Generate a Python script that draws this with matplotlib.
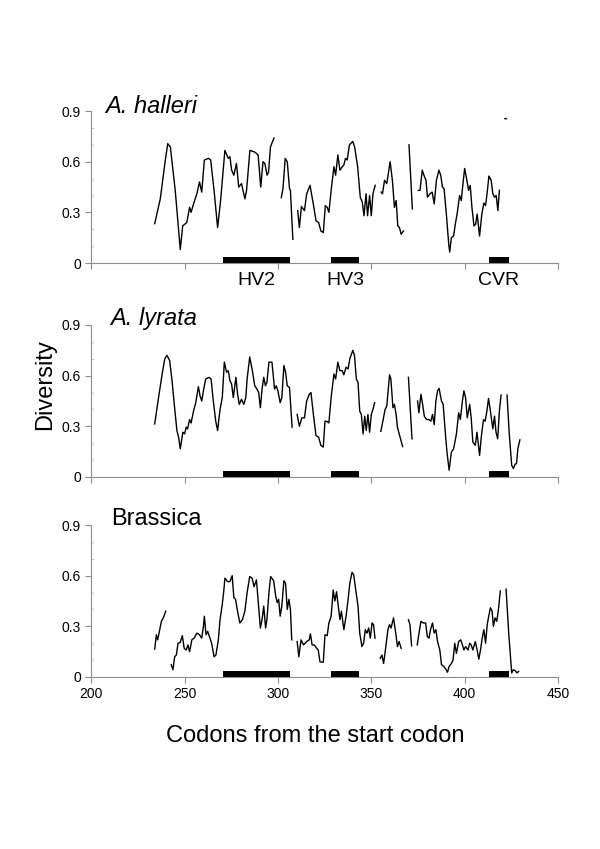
import numpy as np
import matplotlib
matplotlib.use("Agg")
import matplotlib.pyplot as plt
from matplotlib.ticker import MultipleLocator

nan = np.nan

# A. halleri (nan = gap in the curve)
halleri_x = [234, 237, 239.7, 241, 242.4, 245, 247.7, 249, 251.2, 252.7, 253.5, 254.8, 256.6, 258, 259.2,
             260.6, 262.8, 264, 265.8, 267.7, 269.3, 271.6, 273.4, 274.3, 275.2, 276.4, 277.8, 279, 280.5,
             282.3, 283.2, 285, 287.6, 289.4, 290.8, 292, 293, 294.2, 295, 296, 297, 297.9, nan,
             301.8, 302.7, 303.9, 305, 306.2, 306.7, 308, nan,
             310.6, 311.5, 312.6, 314.2, 315.4, 317.2, 318, 319.1, 320.4, 321.8, 323, 324.3, 325.4, 326.4,
             327.3, 328.5, 330, 330.9, 332.1, 333.2, 334.4, 335.3, 336.2, 337.1, 338.3, 340.1, 341.1, 342.7,
             344.1, 345.2, 346.1, 347.2, 348, 349.1, 350, 350.9, 352.1, nan,
             355.3, 356, 357.1, 358.3, 360.1, 361.3, 362.4, 363.3, 364.2, 365.1, 366, 367.2, nan,
             370.2, 372, nan,
             375.2, 376.1, 377.3, 378.2, 379.3, 380.1, 381.4, 382.6, 383.7, 384.9, 386.2, 387.2, 388.1, 389,
             390.2, 391.5, 392, 392.9, 394.1, 395, 396.1, 397.3, 398.2, 399.1, 400, 401.2, 402.1, 403, 403.9,
             405, 405.9, 406.7, 408, 409.2, 410.3, 411.2, 412.1, 413, 414.2, 415.1, 416, 416.9, 417.8, 418.6,
             nan, 421.6, 422.4]
halleri_y = [0.233, 0.38, 0.61, 0.707, 0.687, 0.43, 0.08, 0.22, 0.24, 0.33, 0.30, 0.35, 0.41, 0.48, 0.42,
             0.61, 0.62, 0.61, 0.43, 0.21, 0.37, 0.667, 0.62, 0.63, 0.55, 0.52, 0.59, 0.45, 0.47,
             0.38, 0.43, 0.667, 0.657, 0.64, 0.45, 0.60, 0.59, 0.52, 0.54, 0.687, 0.716, 0.74, nan,
             0.387, 0.44, 0.62, 0.60, 0.44, 0.43, 0.14, nan,
             0.31, 0.21, 0.335, 0.31, 0.41, 0.46, 0.41, 0.34, 0.25, 0.24, 0.19, 0.18, 0.34, 0.33,
             0.30, 0.43, 0.57, 0.52, 0.64, 0.55, 0.57, 0.58, 0.62, 0.61, 0.70, 0.72, 0.687, 0.57,
             0.39, 0.36, 0.28, 0.41, 0.28, 0.40, 0.28, 0.41, 0.46, nan,
             0.42, 0.41, 0.49, 0.47, 0.60, 0.49, 0.33, 0.37, 0.22, 0.21, 0.17, 0.19, nan,
             0.70, 0.32, nan,
             0.43, 0.43, 0.55, 0.52, 0.49, 0.39, 0.41, 0.42, 0.35, 0.49, 0.55, 0.52, 0.45, 0.44,
             0.29, 0.11, 0.065, 0.15, 0.16, 0.23, 0.30, 0.40, 0.37, 0.47, 0.56, 0.49, 0.43, 0.46, 0.33,
             0.22, 0.23, 0.29, 0.16, 0.29, 0.355, 0.34, 0.42, 0.515, 0.49, 0.41, 0.39, 0.40, 0.31, 0.43,
             nan, 0.855, 0.855]

# A. lyrata
lyrata_x = [234, 236.2, 238, 239.4, 240.6, 242, 243.3, 244.5, 245.9, 246.8, 247.7, 249.1, 250, 250.9, 251.6,
            252.7, 253.5, 254.8, 256, 257.4, 258.3, 259.2, 260.1, 261.3, 263.1, 264.2, 265.4, 266.7, 267.7,
            269, 270.2, 271.3, 272.5, 273.4, 274.3, 275.2, 276.1, 277.5, 278.4, 279.3, 280.5, 281.7, 282.8,
            283.5, 284.9, 286.3, 287.6, 288.8, 289.7, 290.6, 291.5, 292.4, 293.3, 294.1, 295.2, 296.8, 298.2,
            299.1, 300, 301.2, 302.1, 303.2, 304.1, 305, 306.2, 307.6, nan,
            310.3, 311.5, 312.8, 314.2, 315.4, 316.8, 317.7, 319, 320.4, 321.8, 323, 324.3, 325.2, 326.1,
            327.3, 328.5, 330, 330.9, 332.1, 333.2, 334.4, 335.3, 336.5, 337.6, 338.5, 340.1, 341, 342,
            342.9, 343.8, 344.7, 345.6, 346.5, 347.3, 348.2, 349.1, 350, 350.9, 351.8, nan,
            355.1, 356.2, 357.4, 358.3, 359.8, 360.5, 361.6, 362.4, 363.3, 364, 365.4, 366.8, nan,
            369.9, 371.8, nan,
            374.8, 375.5, 376.6, 377.5, 378.4, 379.6, 380.9, 381.9, 382.8, 383.7, 384.6, 385.5, 386.3, 387.6,
            388.5, 389.7, 390.6, 391.7, 392.9, 394.1, 395.6, 396.8, 397.7, 398.8, 399.6, 400.5, 401.4, 402.7,
            403.5, 404.4, 405.7, 406.6, 408, 408.9, 410.1, 411, 411.9, 412.8, 413.8, 415.1, 416, 416.8, 417.7,
            418.6, 419.5, nan,
            422.7, 423.9, 425.2, 426.1, 427, 427.8, 428.5, 429.6]
lyrata_y = [0.314, 0.48, 0.61, 0.70, 0.72, 0.69, 0.57, 0.43, 0.275, 0.236, 0.167, 0.265, 0.255, 0.295, 0.285,
            0.34, 0.32, 0.39, 0.44, 0.535, 0.48, 0.45, 0.51, 0.58, 0.59, 0.58, 0.45, 0.33, 0.275,
            0.40, 0.47, 0.68, 0.62, 0.63, 0.57, 0.55, 0.47, 0.59, 0.49, 0.43, 0.46, 0.43, 0.47,
            0.58, 0.71, 0.63, 0.54, 0.52, 0.50, 0.41, 0.52, 0.59, 0.54, 0.56, 0.68, 0.68, 0.52,
            0.54, 0.51, 0.44, 0.47, 0.66, 0.62, 0.54, 0.53, 0.295, nan,
            0.37, 0.30, 0.35, 0.35, 0.45, 0.49, 0.50, 0.37, 0.245, 0.236, 0.187, 0.177, 0.33, 0.33,
            0.32, 0.47, 0.61, 0.58, 0.68, 0.63, 0.63, 0.605, 0.65, 0.64, 0.70, 0.75, 0.72, 0.58,
            0.56, 0.39, 0.37, 0.255, 0.36, 0.275, 0.37, 0.265, 0.37, 0.40, 0.44, nan,
            0.27, 0.33, 0.40, 0.42, 0.605, 0.58, 0.41, 0.43, 0.37, 0.295, 0.236, 0.18, nan,
            0.59, 0.226, nan,
            0.45, 0.38, 0.49, 0.43, 0.36, 0.34, 0.34, 0.33, 0.37, 0.31, 0.45, 0.51, 0.525, 0.45,
            0.43, 0.255, 0.14, 0.04, 0.147, 0.167, 0.255, 0.38, 0.34, 0.45, 0.51, 0.47, 0.35, 0.43,
            0.35, 0.206, 0.187, 0.265, 0.128, 0.236, 0.34, 0.33, 0.39, 0.465, 0.39, 0.285, 0.36, 0.265, 0.226,
            0.39, 0.485, nan,
            0.485, 0.255, 0.069, 0.05, 0.075, 0.08, 0.167, 0.22]

# Brassica
brassica_x = [234, 234.9, 235.6, 236.7, 237.6, 238.8, 239.9, nan,
              242.9, 243.8, 244.7, 245.6, 246.5, 247.7, 248.8, 249.8, 250.9, 251.8, 252.7, 253.9, 255.1,
              256.6, 258, 259.2, 260.1, 260.6, 261.5, 262.4, 263.3, 264.5, 265.8, 266.8, 268.1, 269, 270.2,
              271.1, 271.6, 273, 274.3, 275.5, 276.4, 277.3, 278.2, 279.6, 281, 282.3, 283.5, 284.9, 286.2,
              287.2, 288.5, 289.4, 290.6, 291.5, 292.4, 293.4, 294.1, 295.2, 296.1, 297.7, 298.8, 299.6,
              300.4, 301.2, 302.1, 303.2, 304.1, 305, 305.9, 306.7, 307.4, nan,
              310.3, 311.2, 312.4, 313.7, 315.4, 316.8, 317.4, 318.3, 319.5, 320.7, 321.6, 322.5, 324.3,
              325.2, 326.4, 327.3, 328.5, 329.6, 330.5, 331.4, 332.3, 333.2, 334, 335.3, 336.5, 337.6, 338.5,
              339.7, 340.6, 341.8, 342.9, 343.8, 345, 345.9, 346.8, 347.7, 348.6, 349.5, 350.4, 351.2, 352, nan,
              354.8, 355.7, 356.6, 357.8, 358.9, 359.8, 360.6, 361.9, 363.1, 364, 364.9, 366, nan,
              369.9, 370.7, 371.6, nan,
              374.6, 375.7, 376.6, 377.8, 379.1, 380, 380.9, 381.7, 382.8, 383.7, 384.6, 385.5, 386.7, 387.6,
              388.8, 389.9, 390.8, 391.7, 392.9, 393.8, 394.7, 395.6, 396.8, 397.9, 398.8, 399.6, 400.5,
              401.8, 402.7, 403.5, 404.4, 405.7, 406.7, 407.6, 408.5, 409.4, 410.3, 411.2, 412.1, 412.9,
              413.8, 414.7, 415.4, 416.3, 417.2, 418.1, 419.1, nan,
              422.2, 423.6, 425.2, 426.1, 427.1, 428, 428.9]
brassica_y = [0.165, 0.25, 0.22, 0.28, 0.33, 0.355, 0.39, nan,
              0.073, 0.043, 0.12, 0.13, 0.20, 0.205, 0.245, 0.17, 0.16, 0.19, 0.15, 0.22, 0.23,
              0.26, 0.25, 0.23, 0.30, 0.36, 0.25, 0.27, 0.24, 0.20, 0.12, 0.13, 0.22, 0.34, 0.43,
              0.52, 0.585, 0.565, 0.565, 0.60, 0.47, 0.46, 0.40, 0.32, 0.34, 0.39, 0.50, 0.595, 0.585,
              0.535, 0.575, 0.45, 0.29, 0.34, 0.42, 0.29, 0.34, 0.50, 0.595, 0.57, 0.48, 0.44,
              0.46, 0.36, 0.42, 0.57, 0.555, 0.40, 0.46, 0.40, 0.22, nan,
              0.21, 0.12, 0.22, 0.19, 0.21, 0.22, 0.255, 0.19, 0.19, 0.17, 0.16, 0.09, 0.087,
              0.25, 0.245, 0.32, 0.36, 0.515, 0.45, 0.505, 0.42, 0.34, 0.39, 0.28, 0.36, 0.46, 0.555,
              0.62, 0.605, 0.505, 0.42, 0.26, 0.18, 0.20, 0.28, 0.26, 0.29, 0.23, 0.32, 0.31, 0.23, nan,
              0.11, 0.13, 0.08, 0.18, 0.28, 0.31, 0.29, 0.35, 0.26, 0.18, 0.21, 0.17, nan,
              0.34, 0.31, 0.185, nan,
              0.19, 0.27, 0.33, 0.32, 0.32, 0.24, 0.23, 0.28, 0.32, 0.26, 0.28, 0.21, 0.16, 0.073,
              0.063, 0.047, 0.028, 0.063, 0.079, 0.10, 0.20, 0.14, 0.21, 0.22, 0.19, 0.16, 0.18,
              0.16, 0.20, 0.19, 0.16, 0.21, 0.16, 0.106, 0.16, 0.23, 0.28, 0.20, 0.31, 0.36,
              0.41, 0.39, 0.30, 0.35, 0.33, 0.40, 0.51, nan,
              0.52, 0.26, 0.024, 0.043, 0.037, 0.024, 0.033]

# hypervariable regions marked under the curves
region_names = ['HV2', 'HV3', 'CVR']
region_start = [270.5, 328.5, 413]
region_end = [306.5, 343.3, 423.5]

panel_names = ['A. halleri', 'A. lyrata', 'Brassica']
panel_italic = [True, True, False]
panel_x = [halleri_x, lyrata_x, brassica_x]
panel_y = [halleri_y, lyrata_y, brassica_y]

plt.rcParams['font.family'] = ['Liberation Sans', 'DejaVu Sans']

fig = plt.figure(figsize=(6, 8.49), dpi=100)
bottoms = [0.6902, 0.4382, 0.2026]
title_pos = [(0.030, 0.987), (0.041, 1.0), (0.043, 1.0)]
axes_color = '#8c8c8c'
region_width = [b - a for a, b in zip(region_start, region_end)]

for i in range(3):
    ax = fig.add_axes([0.152, bottoms[i], 0.778, 0.179])
    ax.plot(panel_x[i], panel_y[i], color='black', lw=1.0)
    ax.bar(region_start, 0.035, width=region_width, bottom=0,
           align='edge', color='black', clip_on=False, zorder=3)
    ax.set_xlim(200, 450)
    ax.set_ylim(0, 0.9)
    ax.set_yticks([0, 0.3, 0.6, 0.9])
    ax.set_yticklabels(['0', '0.3', '0.6', '0.9'])
    ax.yaxis.set_minor_locator(MultipleLocator(0.1))
    ax.set_xticks([200, 250, 300, 350, 400, 450])
    ax.spines['top'].set_visible(False)
    ax.spines['right'].set_visible(False)
    for s in ['left', 'bottom']:
        ax.spines[s].set_color(axes_color)
        ax.spines[s].set_linewidth(0.8)
    ax.tick_params(colors=axes_color, labelcolor='black', labelsize=10, length=4, width=0.8)
    ax.tick_params(axis='y', which='minor', direction='in', length=2, width=0.6, colors='#c8c8c8')
    if i < 2:
        ax.tick_params(axis='x', labelbottom=False)
    tx, ty = title_pos[i]
    ax.text(tx, ty, panel_names[i], transform=ax.transAxes, fontsize=17,
            style='italic' if panel_italic[i] else 'normal', va='baseline', ha='left')
    if i == 0:
        for name, a, b in zip(region_names, region_start, region_end):
            ax.text((a + b) / 2, -0.13, name, ha='center', va='baseline', fontsize=14, clip_on=False)

fig.text(0.075, 0.547, 'Diversity', rotation=90, fontsize=17, ha='center', va='center')
fig.text(0.525, 0.126, 'Codons from the start codon', fontsize=17, ha='center', va='baseline')

fig.savefig('out.png', dpi=100)
